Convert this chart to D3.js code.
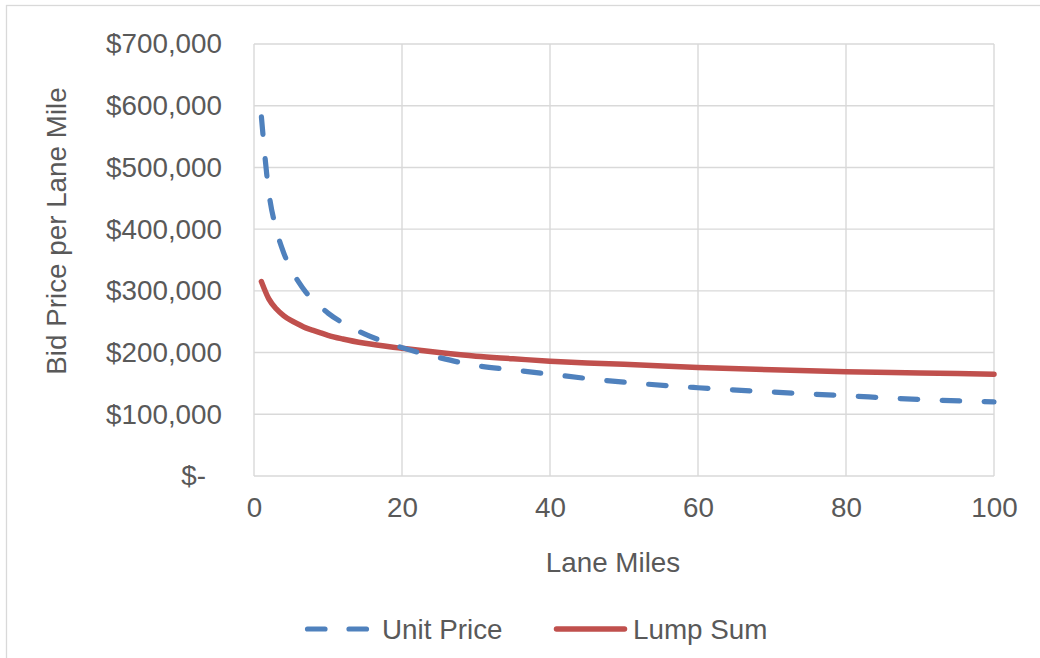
<!DOCTYPE html>
<html>
<head>
<meta charset="utf-8">
<script src="https://cdn.jsdelivr.net/npm/d3@7"></script>
<style>
  html, body { margin: 0; padding: 0; background: #ffffff; }
  svg { display: block; }
  text { font-family: "Liberation Sans", Arial, sans-serif; fill: #595959; }
</style>
</head>
<body>
<svg id="chart" width="1040" height="658"></svg>
<script>
// Lane miles at which each bid price is sampled
const laneMiles = [1, 2, 3, 4, 5, 6, 7, 8, 9, 10, 12, 15, 20, 25, 30, 35, 40, 45, 50, 60, 70, 80, 90, 100];
// Bid price per lane mile, unit-price contracts
const unitPrice = [582000, 460000, 400000, 362000, 335000, 315000, 298000, 285000, 274000, 264000,
                   248000, 230000, 208000, 192000, 179000, 172000, 165000, 158000, 152000, 143000,
                   136000, 130000, 124000, 120000];
// Bid price per lane mile, lump-sum contracts
const lumpSum = [315000, 287000, 271000, 260000, 252000, 246000, 240000, 236000, 232000, 228000,
                 222000, 215000, 207000, 200000, 194000, 190000, 186000, 183000, 181000, 176000,
                 172000, 169000, 167000, 165000];
const xTicks = [0, 20, 40, 60, 80, 100];
const yTicks = [0, 100000, 200000, 300000, 400000, 500000, 600000, 700000];
const seriesNames = ["Unit Price", "Lump Sum"];

const svg = d3.select("#chart");
const plot = { left: 254, right: 994, top: 44, bottom: 476 };
const gridColor = "#d9d9d9";
const blue = "#4f81bd", red = "#c0504d";
const fontSize = 27.8;

// chart frame
svg.append("rect")
  .attr("x", 6.5).attr("y", 5.5).attr("width", 1060).attr("height", 680)
  .attr("fill", "none").attr("stroke", gridColor).attr("stroke-width", 1.3);

const x = d3.scaleLinear().domain([0, 100]).range([plot.left, plot.right]);
const y = d3.scaleLinear().domain([0, 700000]).range([plot.bottom, plot.top]);

// gridlines
const grid = svg.append("g");
grid.selectAll("line.h").data(yTicks).join("line")
  .attr("x1", plot.left).attr("x2", plot.right)
  .attr("y1", d => y(d)).attr("y2", d => y(d))
  .attr("stroke", gridColor).attr("stroke-width", 1.4);
grid.selectAll("line.v").data(xTicks).join("line")
  .attr("y1", plot.top).attr("y2", plot.bottom)
  .attr("x1", d => x(d)).attr("x2", d => x(d))
  .attr("stroke", gridColor).attr("stroke-width", 1.4);

// y axis labels
const money = d3.format(",");
const yAxis = d3.axisLeft(y).tickValues(yTicks).tickSize(0).tickPadding(32)
  .tickFormat(d => d === 0 ? "$-" : "$" + money(d));
const gy = svg.append("g").attr("transform", `translate(${plot.left},0)`).call(yAxis);
gy.select(".domain").remove();
gy.selectAll("text")
  .attr("font-size", fontSize)
  .style("font-family", '"Liberation Sans", Arial, sans-serif')
  .attr("fill", "#595959")
  .attr("dx", d => d === 0 ? -16 : 0);

// x axis labels
const xAxis = d3.axisBottom(x).tickValues(xTicks).tickSize(0).tickPadding(21)
  .tickFormat(d3.format("d"));
const gx = svg.append("g").attr("transform", `translate(0,${plot.bottom})`).call(xAxis);
gx.select(".domain").remove();
gx.selectAll("text")
  .attr("font-size", fontSize)
  .style("font-family", '"Liberation Sans", Arial, sans-serif')
  .attr("fill", "#595959");

// axis titles
svg.append("text")
  .attr("x", 613).attr("y", 572)
  .attr("text-anchor", "middle").attr("font-size", fontSize)
  .text("Lane Miles");
svg.append("text")
  .attr("transform", "translate(66,231) rotate(-90)")
  .attr("text-anchor", "middle").attr("font-size", fontSize)
  .text("Bid Price per Lane Mile");

// series lines
const line = d3.line()
  .x((d, i) => x(laneMiles[i]))
  .y(d => y(d))
  .curve(d3.curveMonotoneX);

const dash = "17.5,24.5";
svg.append("path")
  .attr("d", line(lumpSum))
  .attr("fill", "none").attr("stroke", red)
  .attr("stroke-width", 5.5).attr("stroke-linecap", "round").attr("stroke-linejoin", "round");
svg.append("path")
  .attr("d", line(unitPrice))
  .attr("fill", "none").attr("stroke", blue)
  .attr("stroke-width", 5.2).attr("stroke-linecap", "round")
  .attr("stroke-dasharray", dash);

// legend
const legendY = 629;
const legend = svg.append("g");
legend.append("line")
  .attr("x1", 307.5).attr("x2", 366.5).attr("y1", legendY).attr("y2", legendY)
  .attr("stroke", blue).attr("stroke-width", 5.2).attr("stroke-linecap", "round")
  .attr("stroke-dasharray", "17.5,24");
legend.append("text")
  .attr("x", 382).attr("y", legendY + 10).attr("font-size", fontSize)
  .text(seriesNames[0]);
legend.append("line")
  .attr("x1", 556.5).attr("x2", 624.5).attr("y1", legendY).attr("y2", legendY)
  .attr("stroke", red).attr("stroke-width", 5.5).attr("stroke-linecap", "round");
legend.append("text")
  .attr("x", 633).attr("y", legendY + 10).attr("font-size", fontSize)
  .text(seriesNames[1]);
</script>
</body>
</html>
